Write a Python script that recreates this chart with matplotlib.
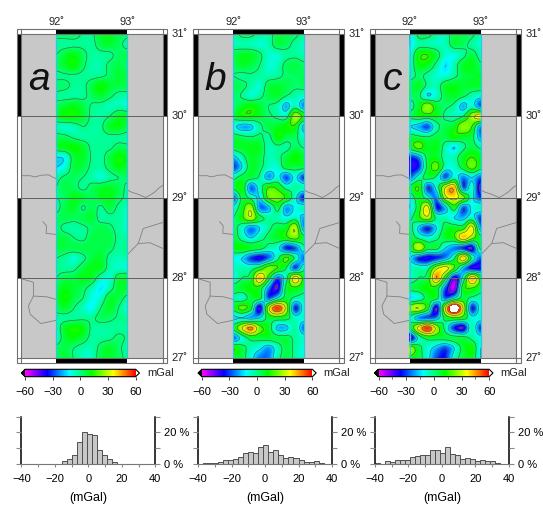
import numpy as np
import matplotlib
matplotlib.use('Agg')
import matplotlib.pyplot as plt
from matplotlib.colors import LinearSegmentedColormap, Normalize
from matplotlib.cm import ScalarMappable
from matplotlib.patches import Rectangle

plt.rcParams['font.family'] = ['Liberation Sans', 'DejaVu Sans']
plt.rcParams['text.color'] = '#222222'
plt.rcParams['contour.negative_linestyle'] = 'solid'

W, H = 543, 505

# gravity anomaly (mGal), rows north to south, 31N..27N, columns 92E..93E
grid_a = [
    [2, 3, 3, -1, -2, 8, 10, 5, 2],
    [-3, -3, -2, -2, -3, 5, 7, 3, -3],
    [0, 7, 10, 3, -3, -3, -2, 3, 5],
    [3, 8, 12, 2, -4, -4, 2, 5, 2],
    [-2, -1, -1, -2, -3, -2, 2, 7, 5],
    [3, 2, -2, -2, 5, 12, 7, 5, 5],
    [-2, -3, -3, -2, 3, 7, 2, -3, -4],
    [3, 7, 10, 5, -1, -3, -6, -5, -8],
    [7, 12, 12, 7, -2, -3, 0, 8, 8],
    [-5, -7, -5, 0, -3, -2, 8, 10, 5],
    [3, 2, -2, -4, -3, -3, -2, -2, -3],
    [8, 10, 12, 7, -2, -2, -2, 3, 2],
    [-15, -12, 6, 8, -1, -3, 5, 12, 10],
    [-15, -9, 6, 5, -2, -3, 3, 10, 8],
    [-3, 2, 3, 0, -4, -9, -3, 0, 3],
    [0, 5, 3, -2, 3, 7, 8, 5, -2],
    [0, 3, 10, 7, 3, 8, 10, 3, -2],
    [-3, 5, 8, -1, 5, -2, 5, -2, -5],
    [3, 5, 3, 5, 7, -4, -2, -3, -6],
    [3, -3, -4, -2, 2, 5, 2, -3, -6],
    [5, 5, 0, -2, 5, 5, 5, -2, -3],
    [7, 5, 5, 5, 5, 5, 3, -3, 0],
    [0, -3, -8, -2, 5, 8, -3, -5, -4],
    [-1, -3, -2, 5, 10, 8, -4, -7, -7],
    [0, 5, 5, 10, 7, -6, -8, 5, 7],
    [5, 10, 7, 3, -5, -14, -5, 7, 8],
    [8, 12, 5, 0, -10, -8, 7, 5, -3],
    [3, 7, 0, -6, -12, 0, 8, 0, -8],
    [-3, -3, -3, -2, -2, 3, 2, -1, -1],
    [-5, 8, 13, 10, -2, -4, -3, -3, -2],
    [-8, 7, 10, 5, -3, -3, -2, 2, -1],
    [3, 5, 0, -4, -5, 3, 8, 2, -3],
    [3, 7, -1, -6, -6, 5, 8, 3, -2],
]
grid_b = [
    [-5, 2, 2, -3, -4, 5, 5, 2, -3],
    [-5, -5, -6, -8, -5, 5, 3, -3, -6],
    [5, 8, 8, 2, -7, -8, -3, -2, -5],
    [3, 8, 5, 0, -8, -6, 3, 5, 2],
    [0, -2, -1, -3, -5, -3, 2, 3, 3],
    [5, 3, -3, -8, 5, 7, 5, 2, 3],
    [3, -1, -8, -3, 5, 7, 0, -4, -8],
    [0, 7, 12, 7, 0, -4, -20, -5, -25],
    [5, 12, 12, 7, 2, -2, -5, 26, 12],
    [-12, -20, -18, -3, 5, 8, 12, 12, -20],
    [5, 2, 0, 2, -3, 12, 5, 3, -8],
    [8, 8, 10, 8, -5, -2, -3, 3, -1],
    [-20, -5, 8, 5, -5, -3, 5, 12, 7],
    [-35, -15, 7, 3, -7, -8, 5, 5, 5],
    [-5, 5, 5, -2, -22, -10, -30, -12, -35],
    [5, 12, -28, -8, 15, 12, -5, -3, -5],
    [-35, 5, -5, -15, 18, 22, 12, -10, -40],
    [-10, 8, 25, -25, -20, 5, -22, -12, -5],
    [0, 12, 28, 5, -3, -4, -12, -6, -22],
    [5, -8, -25, -15, -3, 5, 8, 28, -25],
    [8, -5, -15, -5, 3, 8, 12, 20, 5],
    [10, 12, 8, 5, -5, -10, -35, -30, -5],
    [-10, -15, -32, -40, -28, -5, 18, -3, -28],
    [-5, -5, -5, 5, 22, 15, 0, -32, -5],
    [-10, 0, 5, 42, 8, -30, -5, 38, 10],
    [5, 8, 12, 8, -25, -45, 5, 12, 5],
    [-3, -8, 5, 5, -30, -15, 5, -3, -5],
    [5, 20, 5, -45, 25, 55, 25, -35, -8],
    [-18, -15, -20, -15, 5, 8, 5, -8, -8],
    [5, 30, 48, 20, 8, -18, -18, -3, -28],
    [-30, -10, 5, 5, 7, 5, 5, -3, -8],
    [15, 5, -5, -12, -22, -8, 5, -3, -10],
    [5, 5, -10, -25, -25, -5, 5, -3, -10],
]
grid_c = [
    [-15, 3, 3, -4, -5, 5, 5, 2, -6],
    [-15, -4, -5, -6, -6, 5, 3, -3, -8],
    [-10, 12, 15, 5, -8, -10, -3, 5, -5],
    [-8, 10, 8, -3, -15, -5, 8, 10, 2],
    [-5, 2, -3, -8, -10, -3, 5, 7, 8],
    [5, 8, -2, -5, 7, 10, 7, 8, 7],
    [3, 2, -15, -8, 5, 8, 2, -5, -10],
    [-5, 8, 25, 7, 2, -3, -20, -8, -30],
    [3, 8, 8, 8, -2, -5, 0, 25, 40],
    [-15, -20, -30, -5, 5, 8, 25, 15, -25],
    [5, 2, 0, 5, 5, 12, 8, 5, -25],
    [8, 20, 8, 10, -5, -15, -3, 5, -3],
    [-35, -25, 5, 8, -5, -5, 8, 15, 8],
    [-40, -35, 5, 20, -7, -8, 5, 20, 5],
    [-30, -8, 5, -3, -30, -8, -25, -15, -30],
    [5, 15, -32, -10, 30, 40, -30, -8, -50],
    [-10, 8, -8, -25, 25, 35, 20, -10, -35],
    [-15, 8, 35, -35, -20, 8, -30, -12, -5],
    [-3, 12, 25, -3, -5, -15, -20, -8, -35],
    [5, -18, -35, -15, 5, 8, 8, 35, -25],
    [8, -3, -10, -3, 8, 12, 40, 20, 5],
    [5, 30, 5, 5, -15, -25, -35, -45, 5],
    [-15, -35, -40, -35, -25, -3, 40, -3, -30],
    [-5, -5, -5, 25, 35, 15, -20, -40, -40],
    [-8, 0, 5, 45, 5, -45, -10, 40, 10],
    [5, 8, 12, 8, -30, -55, 8, 15, 5],
    [-15, -10, 5, 5, -30, -15, 5, -3, -5],
    [25, 30, 8, -45, 30, 72, 30, -35, -8],
    [-5, -25, -30, -25, 5, 12, 8, -10, -8],
    [5, 35, 55, 25, -5, -35, -45, -5, -35],
    [-50, -10, 5, 5, 5, 5, 5, -3, -10],
    [25, 5, -8, -20, -30, -15, 5, 12, -15],
    [12, 5, -10, -30, -35, -8, 5, 8, -15],
]
panel_names = ['a', 'b', 'c']

lon_ticks = [92, 93]
lat_ticks = [27, 28, 29, 30, 31]
contour_levels = [-45, -30, -15, 0, 15, 30, 45]
fill_levels = np.arange(-60, 61, 1.5)

# border lines lon, lat
border_lons = [
    [91.51, 91.63, 91.70, 91.79, 91.89, 92.0],
    [91.81, 91.86, 91.855, 91.995],
    [91.51, 91.676, 91.676, 91.864, 91.995],
    [91.676, 91.606, 91.63, 91.78, 91.995],
    [93.0, 93.155, 93.225, 93.498],
    [93.155, 93.32, 93.498],
    [93.01, 93.05, 93.155, 93.26, 93.32, 93.39, 93.45, 93.498],
]
border_lats = [
    [29.27, 29.27, 29.255, 29.277, 29.28, 29.23],
    [28.70, 28.65, 28.556, 28.543],
    [27.99, 27.947, 27.774, 27.765, 27.733],
    [27.774, 27.65, 27.547, 27.43, 27.47],
    [28.29, 28.43, 28.617, 28.69],
    [28.43, 28.44, 28.37],
    [29.09, 29.07, 29.04, 29.0, 29.03, 29.07, 29.12, 29.15],
]

# histograms, 3 mGal bins starting at -40
hist_a = [0, 0, 0, 0, 0, 0, 0.3, 0, 1.9, 3.4, 5.5, 14, 20.6, 19, 18.3, 9, 5.5, 3.4,
          1.3, 0.3, 0.2, 0.2, 0.2, 0, 0, 0, 0]
hist_b = [0.2, 0.6, 0.8, 0.6, 1.5, 2.8, 2.8, 3.2, 4.5, 6.8, 7.6, 6.8, 10.7, 12, 7.6, 9,
          6, 4, 4.3, 3.5, 2.8, 1.5, 1.5, 2.2, 0.4, 0.2, 0]
hist_c = [0.4, 0.2, 2.2, 1.3, 2.8, 2.8, 2.8, 4.3, 5, 5.4, 5.9, 8.7, 8.7, 6.7, 10.7, 6.5,
          5.9, 3, 4, 3.3, 2.2, 2.8, 2.2, 2.2, 0.9, 0.2, 0.2]
bin_starts = np.arange(-40, 41, 3)

cmap = LinearSegmentedColormap.from_list(
    'rainbow_gmt', ['#ff00ff', '#0000ff', '#00ffff', '#00ff00', '#ffff00', '#ff0000'], N=256)
cmap.set_under('black')
cmap.set_over('white')
norm = Normalize(-60, 60)


def pix_axes(fig, x0, y0, x1, y1):
    return fig.add_axes([x0 / W, 1 - y1 / H, (x1 - x0) / W, (y1 - y0) / H])


def merc(lat):
    lat = np.clip(lat, 1, 89)
    return np.log(np.tan(np.pi / 4 + np.radians(lat) / 2))


def imerc(y):
    return np.degrees(2 * np.arctan(np.exp(y)) - np.pi / 2)


def resample(z, factor):
    # smooth display resampling of the table along its first axis
    n = z.shape[0]
    t = np.linspace(0, n - 1, (n - 1) * factor + 1)
    i = np.clip(t.astype(int), 0, n - 2)
    u = (t - i).reshape(-1, 1)
    p0, p1 = z[np.clip(i - 1, 0, n - 1)], z[i]
    p2, p3 = z[i + 1], z[np.clip(i + 2, 0, n - 1)]
    return 0.5 * (2 * p1 + (p2 - p0) * u + (2 * p0 - 5 * p1 + 4 * p2 - p3) * u ** 2
                  + (3 * p1 - p0 - 3 * p2 + p3) * u ** 3)


def draw_map(fig, off, grid, name):
    ax = pix_axes(fig, 21.3 + off, 34.3, 162.7 + off, 357.7)
    ax.set_facecolor('#c8c8c8')
    ax.set_yscale('function', functions=(merc, imerc))
    ax.set_xlim(91.505, 93.5)
    ax.set_ylim(27, 31)
    ax.set_xticks([])
    ax.set_yticks([])
    ax.minorticks_off()
    for s in ax.spines.values():
        s.set_visible(False)

    for blon, blat in zip(border_lons, border_lats):
        ax.plot(blon, blat, color='#808080', lw=0.6, zorder=1)

    z = np.array(grid, dtype=float)
    fine = resample(resample(z, 6).T, 6).T
    lon = np.linspace(92, 93, fine.shape[1])
    lat = np.linspace(31, 27, fine.shape[0])
    ax.contourf(lon, lat, fine, levels=fill_levels, cmap=cmap, norm=norm, extend='both',
                antialiased=False, zorder=2)
    ax.contour(lon, lat, fine, levels=contour_levels, colors='#466446',
               linewidths=0.45, zorder=3)
    ax.axvline(92, color='#30c8e0', lw=0.9, zorder=3)
    ax.axvline(93, color='#30c8e0', lw=0.9, zorder=3)

    # frame
    fx = 4.6 / 141.4
    fy = 5.0 / 323.4
    ytr = ax.get_yaxis_transform()
    xtr = ax.get_xaxis_transform()
    edge = '#707070'
    for i in range(4):
        c = 'black' if i % 2 == 1 else 'white'
        for xb in (-fx, 1):
            ax.add_patch(Rectangle((xb, 27 + i), fx, 1, transform=ytr, fc=c, ec='none',
                                   clip_on=False, zorder=4))
    for yb in (-fy, 1):
        ax.add_patch(Rectangle((92, yb), 1, fy, transform=xtr, fc='black', ec='none',
                               clip_on=False, zorder=4))
    ta = ax.transAxes
    ax.add_patch(Rectangle((-fx, -fy), 1 + 2 * fx, 1 + 2 * fy, transform=ta, fc='none', ec=edge,
                           lw=0.8, clip_on=False, zorder=5))
    for x in (0, 1):
        ax.plot([x, x], [-fy, 1 + fy], transform=ta, color=edge, lw=0.8, clip_on=False, zorder=5)
    for y in (0, 1):
        ax.plot([-fx, 1 + fx], [y, y], transform=ta, color=edge, lw=0.8, clip_on=False, zorder=5)
    for la in lat_ticks[1:-1]:
        ax.plot([-fx, 1 + fx], [la, la], transform=ytr, color='#606060', lw=0.7,
                clip_on=False, zorder=5)

    for lo in lon_ticks:
        ax.text(lo, 1.022, f'{lo}˚', transform=xtr, ha='center', va='bottom', fontsize=8)
    for la in lat_ticks:
        ax.text(1.065, la, f'{la}˚', transform=ytr, ha='left', va='center', fontsize=8)
    ax.text(0.125, 0.86, name, transform=ta, ha='center', va='center', fontsize=28,
            style='italic', color='#111111', zorder=6)


def draw_cbar(fig, off):
    cax = pix_axes(fig, 21.3 + off, 369.3, 139.5 + off, 376.7)
    cb = fig.colorbar(ScalarMappable(norm=norm, cmap=cmap), cax=cax, orientation='horizontal',
                      extend='both', extendfrac=0.035)
    cb.set_ticks([-60, -30, 0, 30, 60])
    cb.ax.xaxis.set_minor_locator(plt.MultipleLocator(15))
    cb.ax.tick_params(which='major', length=2.5, width=0.6, labelsize=8, pad=5, color='#222222')
    cb.ax.tick_params(which='minor', length=1.5, width=0.5, color='#222222')
    cb.outline.set_linewidth(0.8)
    fig.text((147 + off) / W, 1 - 373 / H, 'mGal', ha='left', va='center', fontsize=8)


def draw_hist(fig, off, values):
    ax = pix_axes(fig, 21.3 + off, 416.7, 155.3 + off, 464)
    ax.bar(bin_starts, values, width=3, align='edge', color='#c8c8c8',
           edgecolor='#505050', linewidth=0.7)
    ax.set_xlim(-40, 40)
    ax.set_ylim(0, 30)
    ax.spines['top'].set_visible(False)
    ax.spines['bottom'].set_color('#777777')
    ax.spines['left'].set_linewidth(1.1)
    ax.spines['right'].set_linewidth(1.1)
    ax.set_xticks([-40, -20, 0, 20, 40])
    ax.set_xticks([-30, -10, 10, 30], minor=True)
    ax.tick_params(axis='x', which='major', length=2.5, width=0.8, color='#888888',
                   labelsize=8, pad=4.5)
    ax.tick_params(axis='x', which='minor', length=2, width=0.8, color='#888888')
    ax.set_yticks([0, 10, 20, 30])
    ax.set_yticklabels(['0 %', '', '20 %', ''])
    ax.tick_params(axis='y', left=True, right=True, labelleft=False, labelright=True,
                   length=3.5, width=0.8, color='#888888', labelsize=8, pad=3)
    ax.set_xlabel('(mGal)', fontsize=9, labelpad=6)
    ax.set_axisbelow(False)


fig = plt.figure(figsize=(W / 100, H / 100), dpi=100)
offsets = [0, 176.7, 353.5]
for off, grid, name, hist in zip(offsets, [grid_a, grid_b, grid_c], panel_names,
                                 [hist_a, hist_b, hist_c]):
    draw_map(fig, off, grid, name)
    draw_cbar(fig, off)
    draw_hist(fig, off, hist)

fig.savefig('out.png', dpi=100)
